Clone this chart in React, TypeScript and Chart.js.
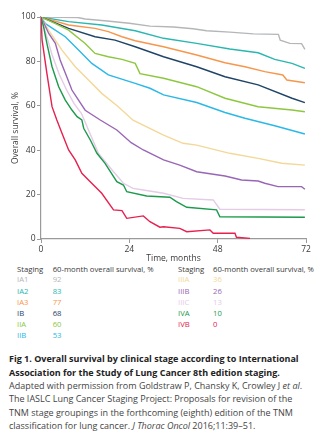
import React, { useEffect, useRef } from "react";
import { Chart, registerables } from "chart.js";

Chart.register(...registerables);

// ---- data (months, overall survival %) ----
const stages = ["IA1", "IA2", "IA3", "IB", "IIA", "IIB", "IIIA", "IIIB", "IIIC", "IVA", "IVB"];
const survival60 = [92, 83, 77, 68, 60, 53, 36, 26, 13, 10, 0];
const stageColors = ["#b4b6b8", "#2ab7b0", "#f7964d", "#1f4466", "#8dc740", "#2bb8e6", "#f3d898", "#9966b6", "#e4cbe6", "#1b9a4c", "#e6204f"];

const monthsIA1 = [0, 10, 12, 18, 24, 29.6, 36, 41.3, 45, 51.3, 57.7, 64.5, 65, 67.6, 70.8, 71.7];
const osIA1 = [100, 99.8, 99.1, 98.2, 97.2, 95.9, 95.5, 94.7, 93.8, 93.2, 92.4, 92.2, 89.6, 88.1, 88, 85.4];
const monthsIA2 = [0, 7.5, 16.5, 25.6, 33.3, 42.3, 51.3, 59, 63.5, 68.2, 71.7];
const osIA2 = [100, 97.9, 96.4, 93.8, 90.4, 88.1, 85.6, 83.9, 80.9, 79.1, 76.9];
const monthsIA3 = [0, 7.5, 14.7, 18.3, 22, 25.6, 33.3, 42.3, 50, 55.4, 60.8, 65.7, 66.8, 71.7];
const osIA3 = [100, 96.4, 94.9, 93.4, 91.1, 89.3, 86.6, 82.9, 79.4, 77.6, 75.4, 73.9, 71.6, 70.4];
const monthsIB = [0, 7.5, 14.7, 20.1, 25.6, 33.3, 42.3, 50, 59, 68.2, 71.7];
const osIB = [100, 94.9, 91.1, 89.6, 86.6, 82.1, 77.6, 73.1, 69.4, 63.4, 61.4];
const monthsIIA = [0, 3.9, 7.5, 12, 14.7, 18.3, 22, 25.6, 26.9, 33.3, 42.3, 50, 59, 68.2, 71.7];
const osIIA = [100, 97, 94.1, 88.1, 83.6, 82.1, 80.9, 79.1, 74.5, 72.4, 68.6, 63.4, 59.6, 58.1, 57.3];
const monthsIIB = [0, 1.2, 6.6, 10.2, 13.8, 18.3, 25.6, 29.6, 33.3, 42.3, 50, 55.4, 63.5, 71.7];
const osIIB = [100, 97, 91.1, 85.1, 79.1, 73.9, 70.1, 67.9, 64.9, 61.5, 57, 54.4, 51, 47.3];
const monthsIIIA = [0, 2.1, 5.7, 9.3, 12.9, 16.5, 21, 25, 33.3, 38.6, 42.3, 51.3, 59, 65.4, 71.7];
const osIIIA = [100, 94, 85.1, 77.6, 71.6, 65.6, 59.6, 53.5, 46.8, 43.1, 42.3, 38.6, 36.3, 34.1, 33.3];
const monthsIIIB = [0, 2.1, 3.9, 5.2, 7, 8.4, 10.2, 12, 16.1, 20.6, 24.5, 27.8, 33.3, 37.7, 42.3, 50, 54.5, 59, 60.8, 64.4, 70.8, 71.7];
const osIIIB = [100, 92.6, 88.1, 80.6, 73.1, 67.1, 62.6, 58, 53.6, 49.1, 43.4, 40.1, 35.6, 33.3, 30.3, 28.4, 26.6, 26.1, 25.1, 23.6, 23.6, 22.4];
const monthsIIIC = [0, 1.6, 3, 5, 7, 9, 11, 12.9, 15.6, 19.3, 22.4, 25, 27.8, 33.3, 38.6, 46.8, 48.6, 71.7];
const osIIIC = [100, 91, 83, 74, 67, 61, 56.5, 49.1, 38.6, 31.1, 25.1, 22.8, 22.1, 20.6, 18.3, 17.6, 13.4, 13.2];
const monthsIVA = [0, 0.7, 1.6, 3, 4.8, 6.6, 8.4, 9.8, 11.1, 11.6, 13.4, 15.2, 17.4, 20.6, 22.4, 23.3, 28.7, 35, 36.8, 39.6, 47.7, 48.6, 71.7];
const osIVA = [100, 95.6, 88.1, 77.6, 68.6, 62.6, 58.1, 55.1, 53.6, 49.9, 44.6, 38.6, 34.1, 25.8, 24.3, 21.3, 19.4, 18.8, 16.8, 14.3, 13.1, 10, 9.8];
const monthsIVB = [0, 0.3, 1.6, 3, 4.3, 5.7, 7.5, 9.3, 11.1, 12.9, 16.5, 19.7, 22, 23.3, 27.8, 29.6, 32.3, 33.3, 37.7, 39.6, 45.9, 46.8, 52.7, 53.1, 56.8];
const osIVB = [100, 89.6, 74.6, 59.6, 53.6, 47.6, 40.1, 35.6, 29.6, 26.6, 20.6, 13.1, 12.8, 9.3, 10.4, 7.8, 5.3, 5.5, 4.8, 3.3, 4.1, 2.6, 2.6, 0.8, 0.3];

const seriesMonths = [monthsIA1, monthsIA2, monthsIA3, monthsIB, monthsIIA, monthsIIB, monthsIIIA, monthsIIIB, monthsIIIC, monthsIVA, monthsIVB];
const seriesOS = [osIA1, osIA2, osIA3, osIB, osIIA, osIIB, osIIIA, osIIIB, osIIIC, osIVA, osIVB];

const xTicks = [0, 24, 48, 72];
const yTicks = [0, 20, 40, 60, 80, 100];

const FONT = "'Open Sans', sans-serif";
const AXIS = "#9a9a9a";
const TEXT = "#3a3a3a";

export default function App() {
  const ref = useRef<HTMLCanvasElement | null>(null);

  useEffect(() => {
    if (!ref.current) return;
    const datasets = stages.map((s, i) => ({
      label: s,
      data: seriesMonths[i].map((m, j) => ({ x: m, y: seriesOS[i][j] })),
      borderColor: stageColors[i],
      backgroundColor: stageColors[i],
      borderWidth: 1.4,
      pointRadius: 0,
      tension: 0,
      fill: false,
    }));
    const chart = new Chart(ref.current, {
      type: "line",
      data: { datasets: datasets.reverse() },
      options: {
        animation: false,
        responsive: false,
        maintainAspectRatio: false,
        layout: { padding: { left: 0, right: 16, top: 17, bottom: 0 } },
        plugins: { legend: { display: false }, tooltip: { enabled: false } },
        scales: {
          x: {
            type: "linear",
            min: 0,
            max: 72,
            afterBuildTicks: (s: any) => {
              s.ticks = xTicks.map((v) => ({ value: v }));
            },
            afterFit: (s: any) => {
              s.height = 25;
            },
            grid: { drawOnChartArea: false, drawTicks: true, tickLength: 4, color: AXIS, lineWidth: 1 },
            border: { color: AXIS, width: 1.2 },
            ticks: { color: TEXT, font: { family: FONT, size: 8.5 }, padding: 1, maxRotation: 0 },
            title: { display: true, text: "Time, months", color: TEXT, font: { family: FONT, size: 8.5 }, padding: 0 },
          },
          y: {
            type: "linear",
            min: 0,
            max: 100,
            afterBuildTicks: (s: any) => {
              s.ticks = yTicks.map((v) => ({ value: v }));
            },
            afterFit: (s: any) => {
              s.width = 41;
            },
            grid: { drawOnChartArea: false, drawTicks: true, tickLength: 4, color: AXIS, lineWidth: 1 },
            border: { color: AXIS, width: 1.2 },
            ticks: { color: TEXT, font: { family: FONT, size: 8.5 }, padding: 1.5 },
            title: { display: true, text: "Overall survival, %", color: TEXT, font: { family: FONT, size: 8.5 }, padding: { top: 10, bottom: 0 } },
          },
        },
      },
    });
    return () => chart.destroy();
  }, []);

  const rowTop = (k: number) => 280 + k * 11.14 - 5.6;
  const cell = (left: number, top: number, color: string, text: string, key: string) => (
    <div key={key} style={{ position: "absolute", left, top, color, fontSize: 7.7, lineHeight: "11.2px", whiteSpace: "nowrap" }}>
      {text}
    </div>
  );

  const legendCells: any[] = [];
  legendCells.push(cell(17, 264.4, TEXT, "Staging", "h1"));
  legendCells.push(cell(52.7, 264.4, TEXT, "60-month overall survival, %", "h2"));
  legendCells.push(cell(178, 264.4, TEXT, "Staging", "h3"));
  legendCells.push(cell(213, 264.4, TEXT, "60-month overall survival, %", "h4"));
  stages.forEach((s, i) => {
    const col = i < 6 ? 0 : 1;
    const row = i < 6 ? i : i - 6;
    const x0 = col === 0 ? 17 : 178;
    const x1 = col === 0 ? 52.7 : 213;
    legendCells.push(cell(x0, rowTop(row), stageColors[i], s, "s" + i));
    legendCells.push(cell(x1, rowTop(row), stageColors[i], String(survival60[i]), "v" + i));
  });

  const capLine = (top: number, content: any, bold: boolean, key: string) => (
    <div key={key} style={{ position: "absolute", left: 9, top, fontSize: 9, lineHeight: "13.3px", whiteSpace: "nowrap", fontWeight: bold ? 700 : 400, color: bold ? "#222" : "#444" }}>
      {content}
    </div>
  );

  return (
    <div style={{ position: "fixed", left: 0, top: 0, width: 322, height: 441, background: "#fff", fontFamily: FONT, overflow: "hidden" }}>
      <canvas ref={ref} width={322} height={264} style={{ position: "absolute", left: 0, top: 0, width: 322, height: 264 }} />
      {legendCells}
      {capLine(352.4, "Fig 1. Overall survival by clinical stage according to International", true, "c1")}
      {capLine(365.7, "Association for the Study of Lung Cancer 8th edition staging.", true, "c2")}
      {capLine(379, <span>Adapted with permission from Goldstraw P, Chansky K, Crowley J <i>et al</i>.</span>, false, "c3")}
      {capLine(392.3, "The IASLC Lung Cancer Staging Project: Proposals for revision of the", false, "c4")}
      {capLine(405.6, "TNM stage groupings in the forthcoming (eighth) edition of the TNM", false, "c5")}
      {capLine(418.9, <span>classification for lung cancer. <i>J Thorac Oncol</i> 2016;11:39–51.</span>, false, "c6")}
    </div>
  );
}
